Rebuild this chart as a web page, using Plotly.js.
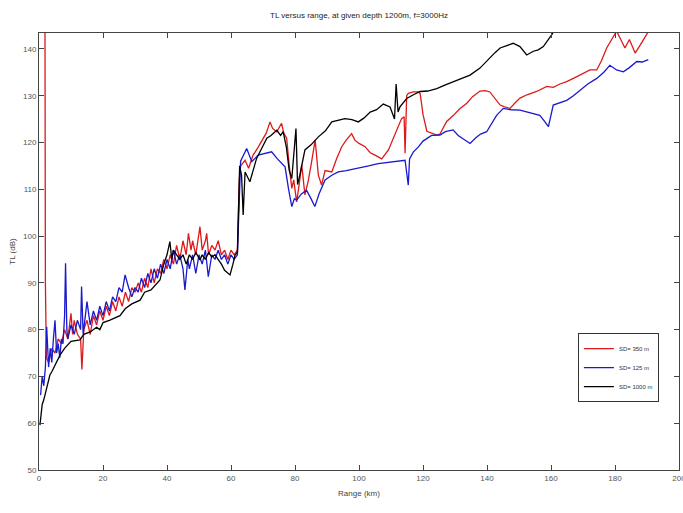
<!DOCTYPE html>
<html>
<head>
<meta charset="utf-8">
<script src="https://cdn.plot.ly/plotly-3.0.1.min.js"></script>
<style>html,body{margin:0;padding:0;background:#fff;overflow:hidden;}#chart{width:683px;height:513px;}</style>
</head>
<body>
<div id="chart"></div>
<script>
// Series names
const seriesNames = ["SD= 350 m", "SD= 125 m", "SD= 1000 m"];

// Red series (SD= 350 m)
const redRange = [1.8, 2.0, 2.3, 3, 4, 5, 6, 7, 8, 9, 10, 10.5, 11, 12, 13, 13.4, 14, 15, 16, 17, 18, 19, 20, 21, 22, 23, 24, 25, 26, 27, 28, 29, 30, 31, 32, 33, 34, 35, 36, 37, 38, 39, 40, 41, 42, 43, 44, 45, 46, 46.7, 47.5, 48, 49, 50, 50.3, 51, 52, 52.4, 53, 54, 55, 56, 57, 58, 59, 60, 61, 62, 62.6, 63, 64.4, 65.5, 66.9, 68.5, 70.1, 71, 72.2, 73, 74.3, 75.8, 76.5, 77.4, 78.2, 79, 79.6, 80.5, 81.3, 82.1, 83.1, 84.2, 85.2, 86.3, 87.3, 88.3, 89.4, 91.5, 93, 94.6, 96, 97.7, 98.7, 100, 101.9, 103.5, 105, 107.1, 109.2, 111.3, 113.3, 114.1, 114.4, 114.9, 115.4, 117, 118.5, 119.1, 120, 121.2, 122.5, 124.3, 125.3, 127.4, 129.5, 131.5, 133.7, 135.5, 137.8, 139.4, 140.9, 142.5, 144.1, 145.5, 147.2, 148.8, 150.3, 152.5, 155.5, 158.7, 160.7, 162.8, 164.9, 167, 169.1, 172.2, 174.3, 175.8, 177.4, 179, 180.5, 181.8, 183.1, 184.5, 186.3, 188.5, 191];
const redTL = [175, 90, 74, 73, 76, 75, 78, 77, 80, 78, 83.5, 79, 82, 79, 78, 71.5, 80, 82, 79, 83, 81, 84, 82, 85, 83, 86, 84, 87, 85, 88, 86, 89, 88, 90, 88, 91, 89, 93, 90, 93, 92, 95, 93, 96, 94, 98, 95, 99, 96, 100.6, 97, 99, 96, 101, 102, 97, 99, 100.6, 96, 98, 97, 99, 96, 97, 95, 97, 96, 97, 112, 115, 116.2, 114.5, 117.3, 119, 120.9, 122, 124.4, 123, 122.3, 124.1, 122, 120.9, 115, 110.2, 112, 107.3, 111, 115.2, 108.8, 112, 115.9, 120.5, 113, 110.9, 114, 113.7, 116.5, 119.1, 120.5, 121.9, 120.5, 119.8, 119.1, 117.8, 117.3, 116.5, 118.4, 121.9, 125.1, 125.5, 117.7, 130, 130.5, 130.8, 130.8, 130.5, 126, 122.4, 122, 121.6, 121.8, 124.5, 125.8, 127.2, 128.4, 129.8, 131, 131.1, 130.8, 129.5, 128, 127.6, 127.3, 128.5, 129.5, 130.2, 130.9, 132, 131.8, 132.5, 133, 133.7, 134.4, 135.5, 135.5, 137.5, 140.2, 142, 143.8, 142, 140.2, 142, 139.1, 141.5, 144.4];

// Blue series (SD= 125 m)
const blueRange = [0.5, 1, 1.5, 2, 2.4, 3, 3.5, 4, 4.5, 5, 5.5, 6, 6.5, 7, 7.5, 8, 8.3, 8.7, 9, 10, 11, 12, 13, 13.3, 13.8, 14.5, 15, 16, 17, 18, 19, 20, 21, 22, 23, 24, 25, 26, 26.9, 28, 29, 30, 31, 32, 33, 34, 35, 36, 37, 38, 39, 40, 41, 42, 43, 44, 45, 45.6, 46.5, 47, 48, 49, 50, 51, 52, 52.9, 54, 55, 56, 57, 58, 59, 60, 61, 62, 62.6, 63, 64.9, 66.5, 68.5, 70, 72.7, 74.5, 76.9, 78, 79, 79.8, 80.5, 82, 83.6, 85, 86.2, 87.5, 89.4, 91.5, 93.5, 96, 99.8, 103, 106, 110, 114.4, 115, 115.4, 115.8, 117, 118.5, 120, 122.7, 125.3, 127, 129.4, 131, 133, 134.7, 136.5, 138, 139.9, 141.5, 143, 145.1, 147.5, 150.3, 152.5, 154.5, 156.5, 158, 159.2, 160.7, 162.8, 164.9, 167, 169, 171.5, 174.3, 176.5, 178.4, 180.5, 182.6, 184.5, 186.8, 188.5, 190.4];
const blueTL = [66, 70, 68, 72, 80.6, 72, 76, 73, 78, 82, 75, 77, 74, 78, 77, 83, 94.2, 80, 78, 81, 79, 82, 80, 89.2, 79, 83, 86, 81, 84, 82, 85, 83, 86, 84, 87, 86, 89, 88, 91.7, 89, 87, 89, 88, 91, 89, 92, 90, 93, 91, 94, 92, 95, 93, 97, 94, 96, 93, 88.5, 95, 93, 96, 92, 96, 94, 97, 91.3, 96, 95, 97, 95, 96, 94, 96, 95, 96, 108, 116, 118.7, 115.9, 117.3, 117.5, 118, 116.5, 114.8, 110, 106.3, 108, 107.7, 109, 109.8, 108, 106.3, 109, 112, 113, 113.7, 114, 114.5, 115, 115.5, 115.8, 116.2, 113, 110.9, 116.5, 118, 119, 120.3, 121.5, 121.6, 122.3, 122.7, 121.5, 120.5, 119.8, 121, 121.8, 122.3, 124, 125.8, 127.3, 127, 126.9, 126.5, 126.2, 125.8, 124.5, 123.4, 128, 128.5, 129, 130, 131.2, 132.5, 133.7, 135, 136.5, 135.5, 135.1, 136, 137.3, 137.2, 137.7];

// Black series (SD= 1000 m)
const blackRange = [0.3, 0.7, 1, 1.5, 1.9, 2.5, 3.4, 4, 5, 6, 6.6, 8, 10, 12.8, 14, 16, 18, 19, 20, 22, 25.3, 27, 29, 31.6, 33, 35, 37, 37.8, 39, 40, 40.9, 41.5, 42, 43, 44, 45, 46, 47, 48, 49, 50.3, 51, 52, 53, 54, 55, 56, 57, 58, 59, 59.7, 60.6, 61.3, 62, 62.3, 62.7, 63.3, 63.8, 64.4, 65.9, 68, 71.2, 72.5, 74.3, 75.5, 76.3, 77.3, 78.2, 79, 79.7, 80.3, 80.8, 81.5, 83.1, 85, 87.3, 89.5, 91.5, 93.5, 95.6, 97.8, 99.8, 101.5, 103.5, 105.5, 107.6, 109.7, 111.1, 111.6, 112.2, 112.8, 114.9, 117, 119.1, 121.5, 124.3, 127, 129.5, 132.6, 134.7, 137.8, 139, 140.9, 142.5, 144.1, 146, 148.2, 150.3, 151.5, 152.4, 154.5, 156, 157.6, 159, 160.2, 161.5, 163];
const blackTL = [59.6, 62, 64, 65, 66, 68, 70.3, 71, 72.5, 74, 74.6, 76, 77.5, 77.8, 79, 79.5, 80.5, 80, 81.5, 82, 83, 84.5, 85.5, 86.3, 88, 88.5, 90, 90.6, 94, 96, 98.8, 95, 97, 96, 95, 96, 94, 96, 95, 96.5, 94.9, 96, 95, 96.5, 95.5, 96, 95, 94, 92.7, 92, 91.7, 94, 96, 96.5, 105, 115, 113, 104.5, 113.7, 111.6, 116.6, 120.9, 121.5, 122.6, 121.5, 122.3, 119, 114, 112.3, 118, 123, 111, 113, 118.4, 119.5, 121.2, 122.5, 124.4, 124.8, 125.1, 124.9, 124.4, 125.2, 126.5, 127, 128.2, 127.6, 125, 132.5, 126.5, 127.6, 129.4, 130.2, 130.9, 131, 131.5, 132.3, 133, 133.8, 134.4, 135.9, 136.8, 138, 139.2, 140.2, 140.6, 141.2, 140.5, 139.5, 138.7, 139.5, 139.8, 140.5, 141.8, 143, 144.5, 146];

// Axis ticks
const xTicks = [0, 20, 40, 60, 80, 100, 120, 140, 160, 180, 200];
const yTicks = [50, 60, 70, 80, 90, 100, 110, 120, 130, 140];

const FONT = "Liberation Sans, Arial, sans-serif";
const traces = [
  {x: redRange, y: redTL, name: seriesNames[0], mode: "lines", line: {color: "rgb(222,25,25)", width: 1.3}},
  {x: blueRange, y: blueTL, name: seriesNames[1], mode: "lines", line: {color: "rgb(25,25,205)", width: 1.3}},
  {x: blackRange, y: blackTL, name: seriesNames[2], mode: "lines", line: {color: "rgb(0,0,0)", width: 1.3}}
];

const axisCommon = {
  showgrid: false, zeroline: false, showline: true, linecolor: "#444", linewidth: 1,
  mirror: "ticks", ticks: "inside", ticklen: 5, tickcolor: "#444", ticklabeloverflow: "allow",
  tickfont: {family: FONT, size: 8, color: "#555"}
};

const layout = {
  width: 683, height: 513,
  margin: {l: 39, r: 4, t: 33, b: 43, autoexpand: false},
  paper_bgcolor: "#fff", plot_bgcolor: "#fff",
  font: {family: FONT, size: 8, color: "#333"},
  title: {text: "TL versus range, at given depth 1200m, f=3000Hz", font: {family: FONT, size: 8, color: "#222"},
          x: 0.5, xref: "paper", y: 0.971, yref: "container", yanchor: "middle"},
  xaxis: Object.assign({}, axisCommon, {range: [0, 200], tickvals: xTicks, ticktext: xTicks.map(String),
          title: {text: "Range (km)", font: {family: FONT, size: 8, color: "#444"}, standoff: 8}}),
  yaxis: Object.assign({}, axisCommon, {range: [50, 143.4], tickvals: yTicks, ticktext: yTicks.map(String),
          title: {text: "TL (dB)", font: {family: FONT, size: 8, color: "#444"}, standoff: 6}}),
  showlegend: true,
  legend: {x: 0.842, y: 0.313, xanchor: "left", yanchor: "top", bgcolor: "#fff", bordercolor: "#333", borderwidth: 1,
           font: {family: FONT, size: 6, color: "#333"}, tracegroupgap: 0, itemwidth: 30}
};

Plotly.newPlot("chart", traces, layout, {displayModeBar: false, staticPlot: true});
</script>
</body>
</html>
